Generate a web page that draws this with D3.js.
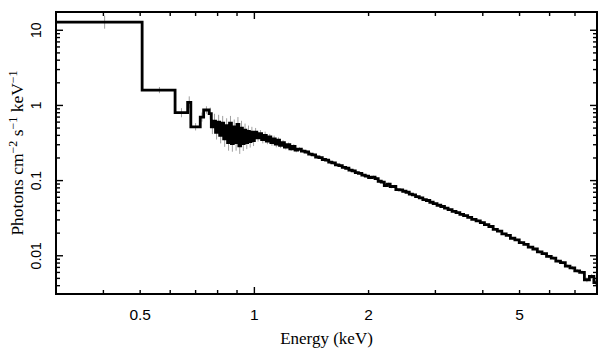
<!DOCTYPE html>
<html><head><meta charset="utf-8">
<script src="https://cdn.jsdelivr.net/npm/d3@7"></script>
<style>html,body{margin:0;padding:0;background:#fff;}svg{display:block;}</style>
</head><body>
<svg id="chart" width="609" height="357"></svg>
<script>
// Bin edges (keV)
const binEdges = [0.30, 0.506, 0.618, 0.667, 0.68, 0.72, 0.735, 0.76, 0.77, 0.78, 0.79, 0.80, 0.81, 0.82, 0.83, 0.84, 0.85, 0.86, 0.87, 0.88, 0.89, 0.90, 0.91, 0.92, 0.93, 0.94, 0.95, 0.96, 0.97, 0.98, 0.99, 1.00, 1.015, 1.03, 1.045, 1.06, 1.075, 1.09, 1.105, 1.12, 1.135, 1.15, 1.165, 1.18, 1.20, 1.22, 1.24, 1.26, 1.28, 1.30, 1.33, 1.36, 1.39, 1.42, 1.45, 1.48, 1.51, 1.54, 1.57, 1.60, 1.635, 1.67, 1.705, 1.74, 1.775, 1.81, 1.845, 1.88, 1.92, 1.96, 2.00, 2.04, 2.08, 2.12, 2.16, 2.20, 2.24, 2.28, 2.32, 2.36, 2.41, 2.46, 2.51, 2.56, 2.61, 2.66, 2.72, 2.78, 2.84, 2.90, 2.96, 3.03, 3.10, 3.17, 3.24, 3.32, 3.40, 3.48, 3.56, 3.65, 3.74, 3.84, 3.94, 4.04, 4.15, 4.26, 4.37, 4.49, 4.61, 4.73, 4.86, 4.99, 5.13, 5.27, 5.42, 5.57, 5.73, 5.89, 6.06, 6.23, 6.41, 6.60, 6.79, 6.99, 7.20, 7.41, 7.64, 7.85, 8.00];
// Photons cm^-2 s^-1 keV^-1 per bin
const flux = [12.8, 1.6, 0.80, 1.1, 0.52, 0.70, 0.87, 0.78, 0.52, 0.62, 0.44, 0.60, 0.40, 0.58, 0.36, 0.54, 0.32, 0.58, 0.31, 0.52, 0.32, 0.56, 0.29, 0.50, 0.31, 0.47, 0.32, 0.45, 0.33, 0.44, 0.34, 0.44, 0.37, 0.42, 0.35, 0.40, 0.335, 0.38, 0.32, 0.36, 0.305, 0.345, 0.295, 0.32, 0.28, 0.30, 0.265, 0.285, 0.255, 0.262, 0.246, 0.240, 0.225, 0.220, 0.206, 0.202, 0.191, 0.187, 0.176, 0.172, 0.162, 0.158, 0.150, 0.146, 0.138, 0.135, 0.128, 0.125, 0.118, 0.115, 0.110, 0.111, 0.106, 0.098, 0.0955, 0.086, 0.090, 0.083, 0.0835, 0.076, 0.0752, 0.0722, 0.0700, 0.0662, 0.0645, 0.0612, 0.0590, 0.0560, 0.0544, 0.0515, 0.0494, 0.0470, 0.0452, 0.0430, 0.0411, 0.0390, 0.0375, 0.0356, 0.0341, 0.0325, 0.0305, 0.0292, 0.0276, 0.0259, 0.0245, 0.0225, 0.0213, 0.0196, 0.0187, 0.0171, 0.0163, 0.0150, 0.0142, 0.0130, 0.0123, 0.0113, 0.0107, 0.0098, 0.0093, 0.0085, 0.0081, 0.0073, 0.0069, 0.0063, 0.0060, 0.0048, 0.0053, 0.0044];
// Relative 1-sigma errors per bin
const relErr = [0.22, 0.10, 0.15, 0.20, 0.12, 0.15, 0.12, 0.20, 0.25, 0.25, 0.25, 0.25, 0.28, 0.25, 0.28, 0.25, 0.28, 0.25, 0.28, 0.25, 0.28, 0.25, 0.28, 0.25, 0.25, 0.22, 0.22, 0.20, 0.20, 0.18, 0.18, 0.14, 0.12, 0.12, 0.12, 0.12, 0.10, 0.10, 0.10, 0.10, 0.10, 0.09, 0.09, 0.08, 0.08, 0.07, 0.07, 0.07, 0.07, 0.06, 0.06, 0.06, 0.06, 0.05, 0.05, 0.05, 0.05, 0.05, 0.05, 0.05, 0.05, 0.05, 0.05, 0.05, 0.05, 0.05, 0.05, 0.05, 0.05, 0.05, 0.05, 0.05, 0.05, 0.05, 0.05, 0.05, 0.05, 0.05, 0.05, 0.05, 0.04, 0.04, 0.04, 0.04, 0.04, 0.04, 0.04, 0.04, 0.04, 0.04, 0.04, 0.04, 0.04, 0.04, 0.04, 0.04, 0.04, 0.04, 0.04, 0.04, 0.04, 0.04, 0.04, 0.04, 0.04, 0.04, 0.04, 0.04, 0.04, 0.04, 0.04, 0.04, 0.04, 0.04, 0.04, 0.05, 0.05, 0.05, 0.05, 0.05, 0.05, 0.05, 0.06, 0.06, 0.06, 0.08, 0.08, 0.10];

const xDomain = [0.3, 8];
const yDomain = [0.0031, 17.5];
const xTickLabels = [0.5, 1, 2, 5];
const yTickLabels = [0.01, 0.1, 1, 10];
const xTitle = "Energy (keV)";

const L = 56, R = 597, T = 12, B = 294;
const svg = d3.select("#chart");
const x = d3.scaleLog().domain(xDomain).range([L, R]);
const y = d3.scaleLog().domain(yDomain).range([B, T]);

const nb = Math.min(flux.length, binEdges.length - 1);
const bins = d3.range(nb).map(i => ({lo: binEdges[i], hi: binEdges[i+1], v: flux[i], e: relErr[i] || 0.04}));

svg.append("defs").append("clipPath").attr("id", "clip")
  .append("rect").attr("x", L).attr("y", T).attr("width", R - L).attr("height", B - T);

const plot = svg.append("g").attr("clip-path", "url(#clip)");

// error bars
plot.selectAll("line.err").data(bins).join("line")
  .attr("class", "err")
  .attr("x1", d => x((d.lo + d.hi) / 2)).attr("x2", d => x((d.lo + d.hi) / 2))
  .attr("y1", d => y(d.v * (1 + d.e))).attr("y2", d => y(d.v / (1 + d.e)))
  .attr("stroke", "#a0a0a0").attr("stroke-width", 1);

// step line
const pts = [];
bins.forEach(d => { pts.push([d.lo, d.v]); pts.push([d.hi, d.v]); });
plot.append("path").datum(pts)
  .attr("d", d3.line().x(d => x(d[0])).y(d => y(d[1])))
  .attr("fill", "none").attr("stroke", "#000").attr("stroke-width", 2.8)
  .attr("stroke-linejoin", "miter");

// ticks
const xMinor = [];
[0.1, 1].forEach(dec => { for (let k = 1; k <= 9; k++) { const v = +(k * dec).toPrecision(3); if (v >= xDomain[0] && v <= xDomain[1]) xMinor.push(v); } });
const yMinor = [];
[0.001, 0.01, 0.1, 1, 10].forEach(dec => { for (let k = 1; k <= 9; k++) { const v = +(k * dec).toPrecision(3); if (v >= yDomain[0] && v <= yDomain[1]) yMinor.push(v); } });
const isMajor = v => Math.abs(Math.log10(v) - Math.round(Math.log10(v))) < 1e-6;
const tl = v => isMajor(v) ? 7 : 4;

const tg = svg.append("g").attr("stroke", "#000").attr("stroke-width", 1.4);
xMinor.forEach(v => {
  tg.append("line").attr("x1", x(v)).attr("x2", x(v)).attr("y1", B).attr("y2", B - tl(v));
  tg.append("line").attr("x1", x(v)).attr("x2", x(v)).attr("y1", T).attr("y2", T + tl(v));
});
yMinor.forEach(v => {
  tg.append("line").attr("y1", y(v)).attr("y2", y(v)).attr("x1", L).attr("x2", L + tl(v));
  tg.append("line").attr("y1", y(v)).attr("y2", y(v)).attr("x1", R).attr("x2", R - tl(v));
});

// frame
svg.append("rect").attr("x", L).attr("y", T).attr("width", R - L).attr("height", B - T)
  .attr("fill", "none").attr("stroke", "#000").attr("stroke-width", 2);

// tick labels
const fmt = v => String(v);
svg.append("g").selectAll("text").data(xTickLabels).join("text")
  .attr("x", d => x(d)).attr("y", 320)
  .attr("text-anchor", "middle")
  .attr("font-family", "Liberation Sans, Arial, sans-serif").attr("font-size", 15.5)
  .text(fmt);
svg.append("g").selectAll("text").data(yTickLabels).join("text")
  .attr("transform", d => `translate(41,${y(d)}) rotate(-90)`)
  .attr("text-anchor", "middle")
  .attr("font-family", "Liberation Sans, Arial, sans-serif").attr("font-size", 14)
  .text(fmt);

// axis titles
svg.append("text").attr("x", (L + R) / 2).attr("y", 344).attr("text-anchor", "middle")
  .attr("font-family", "Liberation Serif, Times New Roman, serif").attr("font-size", 17)
  .text(xTitle);

const yt = svg.append("text").attr("transform", `translate(23,${(T + B) / 2}) rotate(-90)`)
  .attr("text-anchor", "middle")
  .attr("font-family", "Liberation Serif, Times New Roman, serif").attr("font-size", 17.5);
const parts = [["Photons cm", false], ["−2", true], [" s", false], ["−1", true], [" keV", false], ["−1", true]];
parts.forEach(([t, sup]) => {
  const ts = yt.append("tspan").text(t);
  if (sup) ts.attr("font-size", 12).attr("baseline-shift", "6");
});
</script>
</body></html>
